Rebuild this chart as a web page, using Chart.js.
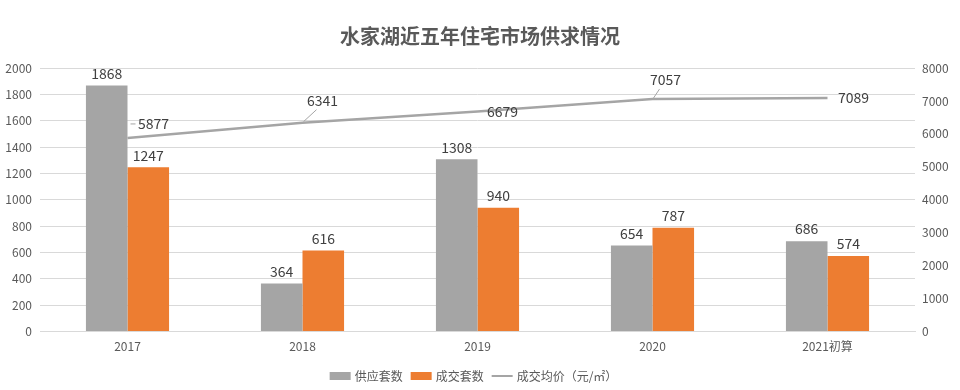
<!DOCTYPE html>
<html><head><meta charset="utf-8">
<script src="https://cdn.jsdelivr.net/npm/chart.js@4/dist/chart.umd.min.js"></script>
<style>html,body{margin:0;padding:0;background:#fff}#wrap{width:960px;height:390px;position:relative}</style>
</head><body><div id="wrap"><canvas id="c"></canvas></div>
<script>
const categories = ['2017', '2018', '2019', '2020', '2021初算'];
const supplyUnits = [1868, 364, 1308, 654, 686];
const dealUnits = [1247, 616, 940, 787, 574];
const avgPrice = [5877, 6341, 6679, 7057, 7089];
const seriesNames = ['供应套数', '成交套数', '成交均价（元/㎡）'];
const chartTitle = '水家湖近五年住宅市场供求情况';

// label placement styles for the line values (dx, dy, leader)
const priceLabelOffsets = [[26, -14, true], [20, -22, true], [25, 0, false], [13, -19, true], [26, 0, false]];

const FONT = "'Noto Sans CJK SC', 'Noto Sans', sans-serif";
const GRAY = '#A5A5A5', ORANGE = '#ED7D31', TXT = '#595959', LBL = '#404040';

const labelPlugin = {
  id: 'valueLabels',
  afterDatasetsDraw(chart) {
    const ctx = chart.ctx;
    ctx.save();
    ctx.font = '14px ' + FONT;
    ctx.fillStyle = LBL;
    ctx.textAlign = 'center';
    chart.data.datasets.forEach((ds, di) => {
      const meta = chart.getDatasetMeta(di);
      meta.data.forEach((el, i) => {
        const v = ds.data[i];
        if (ds.type === 'line') {
          const [dx, dy, leader] = priceLabelOffsets[i];
          if (leader) {
            ctx.strokeStyle = '#A5A5A5'; ctx.lineWidth = 1;
            ctx.beginPath();
            if (dy > -16) { ctx.moveTo(el.x + 3, el.y + dy); ctx.lineTo(el.x + 8, el.y + dy); }
            else { ctx.moveTo(el.x + 1, el.y - 1); ctx.lineTo(el.x + dx - 6, el.y + dy + 9); }
            ctx.stroke();
          }
          ctx.textBaseline = 'middle';
          ctx.fillText(String(v), el.x + dx, el.y + dy);
        } else {
          ctx.textBaseline = 'bottom';
          ctx.fillText(String(v), el.x, el.y - 5);
        }
      });
    });
    ctx.restore();
  },
  afterDraw(chart) {
    const ctx = chart.ctx;
    ctx.save();
    ctx.font = '12px ' + FONT;
    ctx.textBaseline = 'middle';
    ctx.textAlign = 'left';
    const y = 376, box = 21, gapBox = 4, gapItem = 8;
    const items = chart.data.datasets.map(ds => ({ ds, w: box + gapBox + ctx.measureText(ds.label).width }));
    const total = items.reduce((a, it) => a + it.w, 0) + gapItem * (items.length - 1);
    let x = (chart.chartArea.left + chart.chartArea.right) / 2 - total / 2 - 4;
    items.forEach(it => {
      if (it.ds.type === 'line') {
        ctx.strokeStyle = it.ds.borderColor; ctx.lineWidth = 2;
        ctx.beginPath(); ctx.moveTo(x, y); ctx.lineTo(x + box, y); ctx.stroke();
      } else {
        ctx.fillStyle = it.ds.backgroundColor;
        ctx.fillRect(x, y - 4, box, 8);
      }
      ctx.fillStyle = TXT;
      ctx.fillText(it.ds.label, x + box + gapBox, y);
      x += it.w + gapItem;
    });
    ctx.restore();
  }
};

new Chart(document.getElementById('c'), {
  data: {
    labels: categories,
    datasets: [
      { type: 'bar', label: seriesNames[0], data: supplyUnits, backgroundColor: GRAY, yAxisID: 'y', order: 2,
        barPercentage: 1, categoryPercentage: 0.475 },
      { type: 'bar', label: seriesNames[1], data: dealUnits, backgroundColor: ORANGE, yAxisID: 'y', order: 2,
        barPercentage: 1, categoryPercentage: 0.475 },
      { type: 'line', label: seriesNames[2], data: avgPrice, borderColor: GRAY, backgroundColor: GRAY, borderWidth: 2.5,
        pointRadius: 0, yAxisID: 'y1', order: 0, tension: 0 }
    ]
  },
  options: {
    responsive: true, maintainAspectRatio: false, animation: false,
    layout: { padding: { top: 0, bottom: 36, left: 0, right: 0 } },
    plugins: {
      legend: { display: false },
      tooltip: { enabled: false },
      title: { display: true, text: chartTitle, color: TXT, font: { family: FONT, size: 20, weight: 'bold' },
        padding: { top: 24, bottom: 20 } }
    },
    scales: {
      x: { grid: { display: false }, border: { color: '#D9D9D9' },
        ticks: { color: TXT, font: { family: FONT, size: 12 }, padding: 0 } },
      y: { position: 'left', min: 0, max: 2000,
        ticks: { stepSize: 200, color: TXT, font: { family: FONT, size: 12 }, padding: 8, callback: v => String(v) },
        grid: { color: '#D9D9D9', drawTicks: false }, border: { display: false },
        afterFit(s) { s.width = 40; } },
      y1: { position: 'right', min: 0, max: 8000,
        ticks: { stepSize: 1000, color: TXT, font: { family: FONT, size: 12 }, padding: 7, callback: v => String(v) },
        grid: { display: false, drawTicks: false }, border: { display: false },
        afterFit(s) { s.width = 45; } }
    }
  },
  plugins: [labelPlugin]
});
</script>
</body></html>
